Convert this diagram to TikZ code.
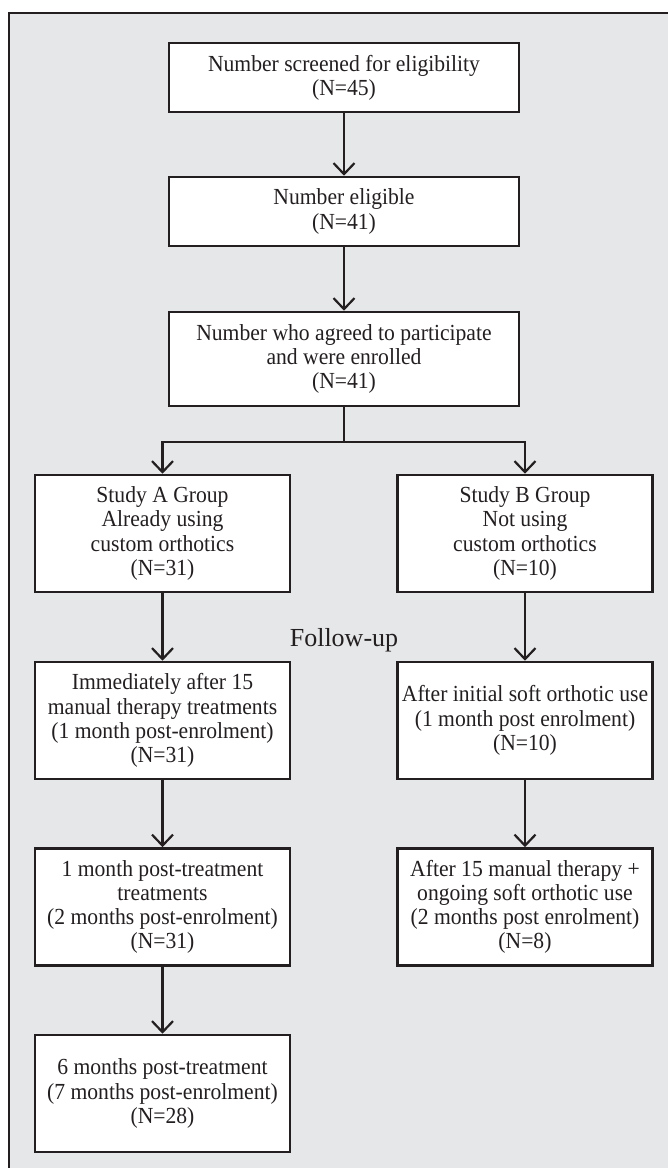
\documentclass[tikz,border=0pt]{standalone}
\usepackage{fontspec}
\setmainfont{Liberation Serif}[FakeStretch=0.94]
\newfontfamily\fufont{Liberation Serif}
\usetikzlibrary{arrows.meta}
\definecolor{bgc}{HTML}{E6E7E8}
\definecolor{ink}{HTML}{231F20}
\begin{document}
\begin{tikzpicture}[x=1pt,y=-1pt,
  box/.style={draw=ink, line width=2.6pt, fill=white, inner sep=0pt, align=center,
    font=\fontsize{23}{24.2}\selectfont, text=ink},
  widebox/.style={box, minimum width=350pt},
  colbox/.style={box, minimum width=255pt, minimum height=117pt},
  conn/.style={draw=ink, line width=2.2pt},
  arr/.style={conn, -{Straight Barb[length=11pt,width=21pt]}}]
\useasboundingbox (0,0) rectangle (668,1168);
\clip (0,0) rectangle (668,1168);
\fill[white] (0,0) rectangle (668,1168);
\draw[ink, line width=2.4pt, fill=bgc] (9,12.7) rectangle (690,1200);

\node[widebox, minimum height=69pt] (b1) at (344,77.5) {Number screened for eligibility\\(N=45)};
\node[widebox, minimum height=69pt] (b2) at (344,211.5) {Number eligible\\(N=41)};
\node[widebox, minimum height=94pt] (b3) at (344,359) {Number who agreed to participate\\and were enrolled\\(N=41)};

\node[colbox] (a1) at (162.5,533.5) {Study A Group\\Already using\\custom orthotics\\(N=31)};
\node[colbox] (c1) at (525,533.5) {Study B Group\\Not using\\custom orthotics\\(N=10)};

\node[text=ink, font=\fufont\fontsize{26}{28}\selectfont] (fu) at (344,640) {Follow-up};

\node[colbox] (a2) at (162.5,720.5) {Immediately after 15\\manual therapy treatments\\(1 month post-enrolment)\\(N=31)};
\node[colbox] (c2) at (525,720.5) {After initial soft orthotic use\\(1 month post enrolment)\\(N=10)};
\node[colbox] (a3) at (162.5,907) {1 month post-treatment\\treatments\\(2 months post-enrolment)\\(N=31)};
\node[colbox] (c3) at (525,907) {After 15 manual therapy +\\ongoing soft orthotic use\\(2 months post enrolment)\\(N=8)};
\node[colbox] (a4) at (162.5,1093.5) {6 months post-treatment\\(7 months post-enrolment)\\(N=28)};

\coordinate (br) at (344,442);
\draw[arr] (b1) -- (b2);
\draw[arr] (b2) -- (b3);
\draw[conn] (b3) -- (br);
\draw[arr] (br) -| (a1);
\draw[arr] (br) -| (c1);
\draw[arr] (a1) -- (a2);
\draw[arr] (c1) -- (c2);
\draw[arr] (a2) -- (a3);
\draw[arr] (c2) -- (c3);
\draw[arr] (a3) -- (a4);
\end{tikzpicture}
\end{document}
